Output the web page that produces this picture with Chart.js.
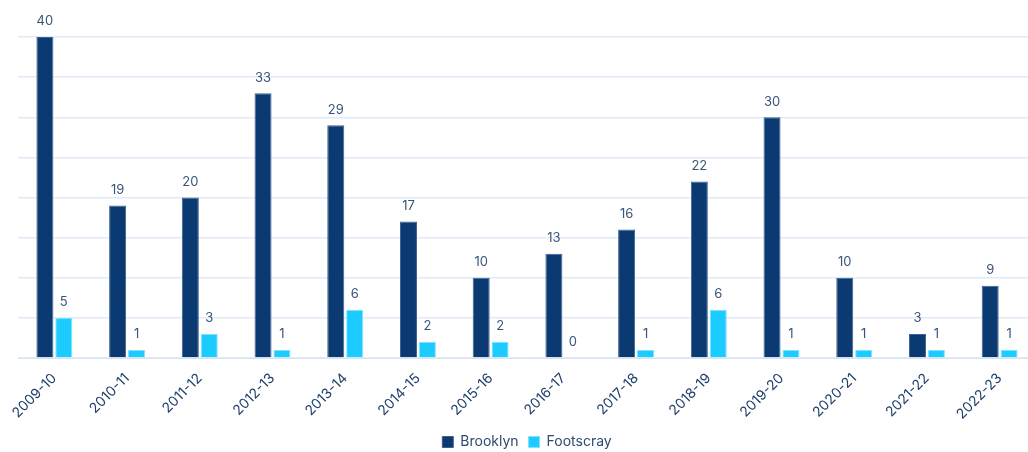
<!DOCTYPE html>
<html>
<head>
<meta charset="utf-8">
<script src="https://cdn.jsdelivr.net/npm/chart.js@4"></script>
<style>
  html, body { margin: 0; padding: 0; background: #fff; overflow: hidden; }
  #wrap { width: 1036px; height: 452px; }
</style>
</head>
<body>
<div id="wrap"><canvas id="yearChart"></canvas></div>
<script>
// chart data
const years = ['2009-10', '2010-11', '2011-12', '2012-13', '2013-14', '2014-15', '2015-16',
  '2016-17', '2017-18', '2018-19', '2019-20', '2020-21', '2021-22', '2022-23'];
const brooklyn = [40, 19, 20, 33, 29, 17, 10, 13, 16, 22, 30, 10, 3, 9];
const footscray = [5, 1, 3, 1, 6, 2, 2, 0, 1, 6, 1, 1, 1, 1];

// draws the value above every bar
const valueLabels = {
  id: 'valueLabels',
  afterDatasetsDraw(chart) {
    const ctx = chart.ctx;
    ctx.save();
    ctx.font = '13px Inter';
    ctx.fillStyle = '#3a5578';
    ctx.textAlign = 'center';
    ctx.textBaseline = 'bottom';
    chart.data.datasets.forEach((ds, i) => {
      chart.getDatasetMeta(i).data.forEach((bar, j) => {
        ctx.fillText(ds.data[j], bar.x, bar.y - 9);
      });
    });
    ctx.restore();
  }
};

// keep the legend box a fixed height so the plot bottom lands where we want
const legendHeight = {
  id: 'legendHeight',
  afterInit(chart) {
    const fit = chart.legend.fit;
    chart.legend.fit = function () {
      fit.call(this);
      this.height = 27;
    };
  }
};

const ctx = document.getElementById('yearChart').getContext('2d');
const yearChart = new Chart(ctx, {
  type: 'bar',
  data: {
    labels: years,
    datasets: [
      { label: 'Brooklyn', data: brooklyn, backgroundColor: '#0b3a72', borderColor: '#3d628f', borderWidth: 1 },
      { label: 'Footscray', data: footscray, backgroundColor: '#1ccbff', borderColor: '#7fe0ff', borderWidth: 1 }
    ]
  },
  options: {
    responsive: true,
    maintainAspectRatio: false,
    animation: false,
    layout: { padding: { left: 18, top: 37, right: 0, bottom: 0 } },
    datasets: { bar: { categoryPercentage: 0.52, barPercentage: 0.9 } },
    plugins: {
      tooltip: { enabled: false },
      legend: {
        position: 'bottom',
        labels: { boxWidth: 11, boxHeight: 11, padding: 10, color: '#2e4a70', font: { family: 'Inter', size: 14 } }
      }
    },
    scales: {
      x: {
        grid: { display: false },
        border: { color: '#d6e4f2' },
        ticks: { minRotation: 45, maxRotation: 45, padding: 4, color: '#1f3f6b', font: { family: 'Inter', size: 14 } },
        afterFit: s => { s.height = 67; }
      },
      y: {
        min: 0, max: 40,
        ticks: { display: false, stepSize: 5 },
        border: { display: false },
        grid: { color: '#e0ebf7', lineWidth: 1.5, drawTicks: false }
      }
    }
  },
  plugins: [valueLabels, legendHeight]
});
</script>
</body>
</html>
